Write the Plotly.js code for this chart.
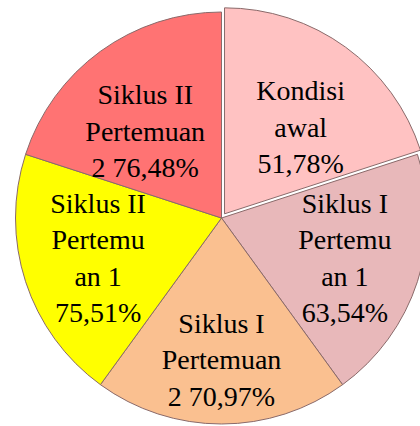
<!DOCTYPE html>
<html>
<head>
<meta charset="utf-8">
<script src="https://cdn.plot.ly/plotly-3.0.1.min.js"></script>
<style>
html,body{margin:0;padding:0;overflow:hidden;background:#fff;width:420px;height:426px;}
#chart{width:440px;height:440px;}
</style>
</head>
<body>
<div id="chart"></div>
<script>
const categories = ["Kondisi awal", "Siklus I Pertemuan 1", "Siklus I Pertemuan 2", "Siklus II Pertemuan 1", "Siklus II Pertemuan 2"];
const percentages = ["51,78%", "63,54%", "70,97%", "75,51%", "76,48%"];
const labelTexts = [
  " <br>Kondisi<br>awal<br>51,78%",
  "Siklus I<br>Pertemu<br>an 1<br>63,54%",
  "Siklus I<br>Pertemuan<br>2 70,97%",
  "Siklus II<br>Pertemu<br>an 1<br>75,51%",
  " <br>Siklus II<br>Pertemuan<br>2 76,48%"
];
const sliceValues = [1, 1, 1, 1, 1];
const sliceColors = ["#FFC2C2", "#E8B8BA", "#FAC090", "#FFFF00", "#FF7373"];
const pulls = [0.025, 0, 0, 0, 0];
const serif = "Liberation Serif";

const trace = {
  type: "pie",
  labels: categories,
  values: sliceValues,
  text: labelTexts,
  textinfo: "text",
  textposition: "inside",
  insidetextorientation: "horizontal",
  sort: false,
  direction: "clockwise",
  rotation: 0,
  pull: pulls,
  marker: {colors: sliceColors, line: {color: "#8a6a6a", width: 1}},
  textfont: {family: serif, size: 28, color: "#000000"},
  insidetextfont: {family: serif, size: 28, color: "#000000"},
  domain: {x: [0.02352, 0.98330], y: [0.02466, 0.98443]},
  hoverinfo: "none"
};

const layout = {
  width: 440, height: 440,
  margin: {l: 0, r: 0, t: 0, b: 0},
  showlegend: false,
  paper_bgcolor: "#fff",
  font: {family: serif, size: 28, color: "#000"},
  uniformtext: {mode: "show", minsize: 28}
};

Plotly.newPlot("chart", [trace], layout, {staticPlot: true, displayModeBar: false});
</script>
</body>
</html>
